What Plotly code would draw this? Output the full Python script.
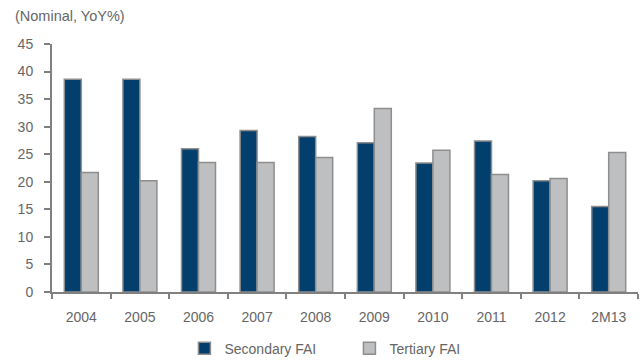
import plotly.graph_objects as go

categories = ["2004", "2005", "2006", "2007", "2008", "2009", "2010", "2011", "2012", "2M13"]
secondary = [38.6, 38.6, 26.0, 29.3, 28.2, 27.1, 23.4, 27.4, 20.2, 15.5]
tertiary = [21.7, 20.2, 23.5, 23.5, 24.4, 33.3, 25.7, 21.3, 20.6, 25.3]
y_ticks = [0, 5, 10, 15, 20, 25, 30, 35, 40, 45]

FONT = "Liberation Sans Narrow, Arial Narrow, Liberation Sans, Arial, sans-serif"
GRAY = "#666666"

fig = go.Figure()
fig.add_trace(go.Bar(x=categories, y=secondary, name="Secondary FAI",
                     marker=dict(color="#033F6D", line=dict(color="#8E8E8E", width=1.5))))
fig.add_trace(go.Bar(x=categories, y=tertiary, name="Tertiary FAI",
                     marker=dict(color="#BEBFC1", line=dict(color="#8E8E8E", width=1.5))))

fig.update_layout(
    width=643, height=360,
    margin=dict(l=52, r=5, t=44, b=68, autoexpand=False),
    paper_bgcolor="white", plot_bgcolor="white",
    barmode="group", bargap=0.42, bargroupgap=0,
    font=dict(family=FONT, size=14, color=GRAY),
    showlegend=True,
    legend=dict(orientation="h", x=0.226, xanchor="left", y=-0.228, yanchor="middle",
                font=dict(size=14, color=GRAY), entrywidth=120, entrywidthmode="pixels",
                itemwidth=30, traceorder="normal"),
    annotations=[dict(text="(Nominal, YoY%)", xref="paper", yref="paper",
                      x=-52/586 + 13/586, xanchor="left", y=1 + 28/248, yanchor="middle",
                      showarrow=False, font=dict(size=14.5, color=GRAY))],
)
fig.update_xaxes(showline=True, linecolor="#808080", linewidth=2,
                 ticks="outside", tickson="boundaries", ticklen=5, tickcolor="#808080", tickwidth=2,
                 ticklabelstandoff=11,
                 showgrid=False, tickfont=dict(size=14, color=GRAY))
fig.update_yaxes(range=[0, 45], tickvals=y_ticks, showline=True, linecolor="#808080", linewidth=2,
                 ticks="outside", ticklen=6, tickcolor="#808080", tickwidth=2,
                 ticklabelstandoff=8,
                 showgrid=False, zeroline=False, tickfont=dict(size=14, color=GRAY))

fig.write_html("out.html")
